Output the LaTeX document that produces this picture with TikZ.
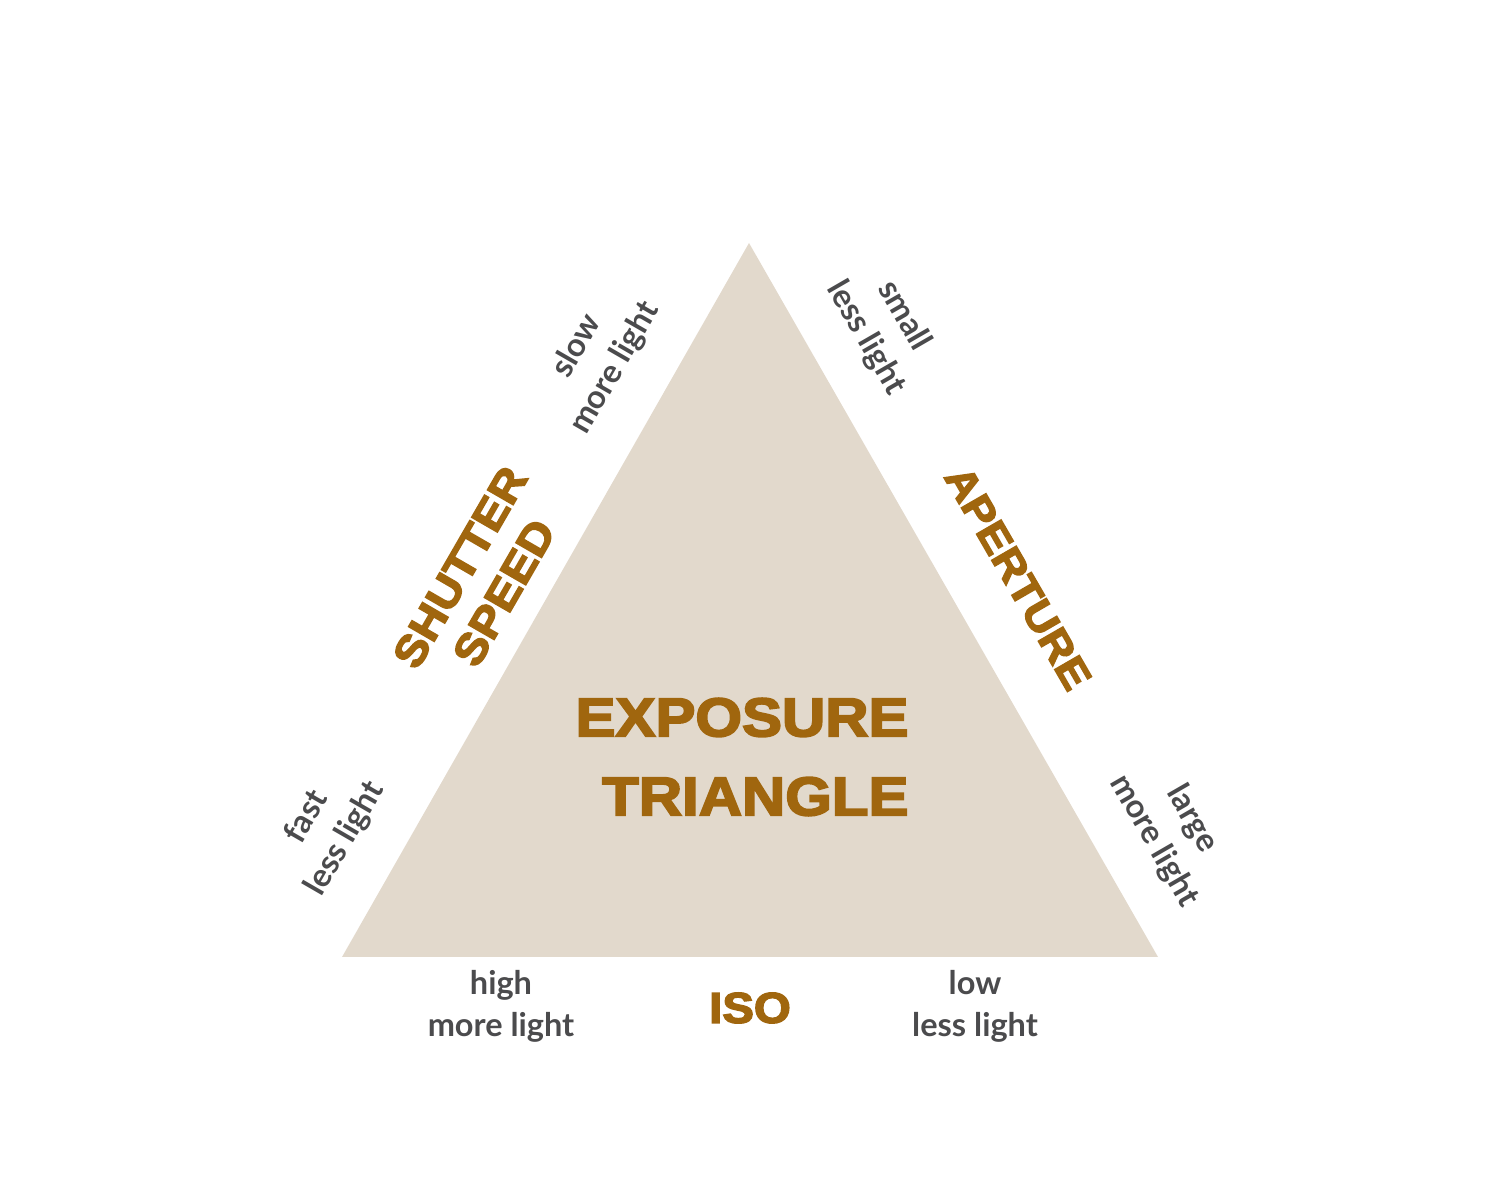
\documentclass[tikz,border=0pt]{standalone}
\usepackage{fontspec}
\setmainfont{Lato}
\newfontfamily\heavyfont[FakeStretch=1.1,FakeBold=3.5]{Liberation Sans}
\usetikzlibrary{positioning}

\definecolor{sand}{HTML}{E2D9CC}
\definecolor{umber}{HTML}{A0660E}
\definecolor{slate}{HTML}{4B4B4D}

\begin{document}
\begin{tikzpicture}[
  x=0.02cm,y=0.02cm,
  every node/.style={inner sep=0pt},
  tri/.style={fill=sand},
  hint/.style={align=center,text=slate,font=\bfseries\fontsize{18.5}{25}\selectfont},
  side/.style={align=center,text=umber,font=\heavyfont\bfseries\fontsize{24.5}{29}\selectfont},
  title/.style={align=right,text=umber,font=\heavyfont\bfseries\fontsize{31}{45}\selectfont},
]
\useasboundingbox (0,0) rectangle (1500,1200);

% the triangle
\coordinate (apex) at (749,957);
\coordinate (left) at (342,243);
\coordinate (right) at (1158,243);
\fill[tri] (apex) -- (left) -- (right) -- cycle;

\node (exposure) [title] at (742,443) {EXPOSURE\\TRIANGLE};

% sides
\node (shutter) [side,rotate=60] at (482,620) {SHUTTER\\SPEED};
\node (aperture) [side,rotate=-60,font=\heavyfont\bfseries\fontsize{23.5}{29}\selectfont] at (1018,622) {APERTURE};
\node (iso) [side] at (750,192) {ISO};

% ends of each side
\node (slow) [hint,rotate=60] at (596,843) {slow\\more light};
\node (fast) [hint,rotate=60] at (326,372) {fast\\less light};
\node (small) [hint,rotate=-60] at (885,873) {small\\less light};
\node (large) [hint,rotate=-60] at (1173,370) {large\\more light};
\node (high) [hint,font=\bfseries\fontsize{18.5}{24}\selectfont] at (501,194) {high\\more light};
\node (low) [hint,font=\bfseries\fontsize{18.5}{24}\selectfont] at (975,194) {low\\less light};
\end{tikzpicture}
\end{document}
